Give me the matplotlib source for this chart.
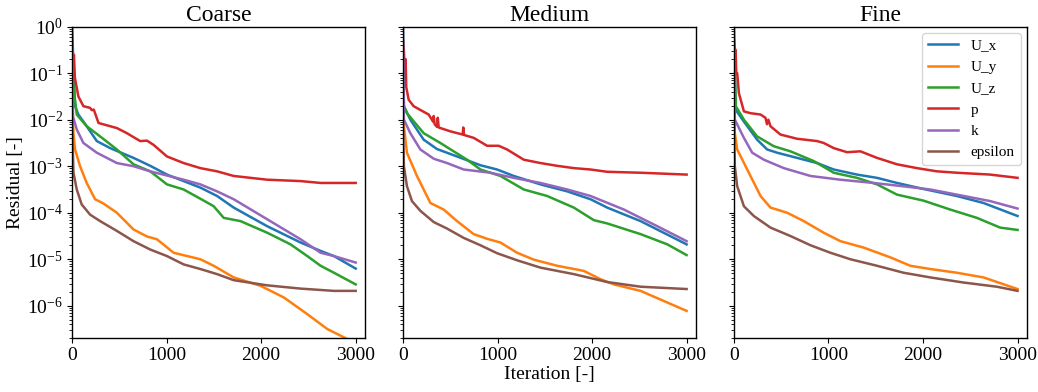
import matplotlib
matplotlib.use("Agg")
import matplotlib.pyplot as plt

plt.rcParams['font.family'] = ['Liberation Serif', 'DejaVu Serif']
plt.rcParams['mathtext.fontset'] = 'stix'

panel_titles = ["Coarse", "Medium", "Fine"]
series_names = ["U_x", "U_y", "U_z", "p", "k", "epsilon"]
series_colors = ["#1f77b4", "#ff7f0e", "#2ca02c", "#d62728", "#9467bd", "#8c564b"]
x_ticks = [0, 1000, 2000, 3000]

# ---- Coarse (iteration, residual) ----
coarse_ux = [(0, 1.0), (32, 1.95e-2), (67, 1.29e-2), (155, 7.24e-3), (262, 3.47e-3), (403, 2.45e-3),
             (650, 1.51e-3), (827, 1.02e-3), (1004, 6.61e-4), (1180, 4.79e-4), (1357, 3.47e-4),
             (1534, 2.29e-4), (1710, 1.29e-4), (2064, 5.13e-5), (2417, 2.29e-5), (2629, 1.51e-5),
             (2770, 1.17e-5), (3000, 6.31e-6)]
coarse_uy = [(0, 5e-2), (15, 5.13e-3), (32, 2.29e-3), (85, 1.0e-3), (155, 4.37e-4), (244, 1.95e-4),
             (332, 1.58e-4), (474, 1.0e-4), (650, 4.37e-5), (792, 3.09e-5), (898, 2.69e-5),
             (1074, 1.38e-5), (1357, 1.0e-5), (1498, 7.24e-6), (1710, 4.07e-6), (1993, 2.69e-6),
             (2240, 1.51e-6), (2488, 6.61e-7), (2700, 3.16e-7), (2877, 2.09e-7), (3000, 1.5e-7)]
coarse_uz = [(0, 0.5), (15, 5e-2), (50, 1.29e-2), (155, 7.24e-3), (297, 4.37e-3), (474, 2.29e-3),
             (650, 1.1e-3), (827, 7.76e-4), (1004, 4.07e-4), (1180, 3.16e-4), (1357, 2.0e-4),
             (1498, 1.38e-4), (1604, 7.76e-5), (1781, 6.61e-5), (2064, 3.72e-5), (2311, 2.09e-5),
             (2488, 1.17e-5), (2629, 7.24e-6), (2770, 5.13e-6), (3000, 2.88e-6)]
coarse_p = [(0, 0.5), (10, 0.1), (20, 0.25), (30, 0.08), (67, 3.16e-2), (120, 1.95e-2), (190, 1.8e-2),
            (210, 1.6e-2), (230, 1.65e-2), (280, 8.5e-3), (474, 6.61e-3), (580, 5.13e-3),
            (721, 3.47e-3), (792, 3.55e-3), (862, 2.88e-3), (1004, 1.62e-3), (1180, 1.17e-3),
            (1357, 9.1e-4), (1534, 7.76e-4), (1710, 6.17e-4), (2064, 5.13e-4), (2417, 4.79e-4),
            (2629, 4.37e-4), (3000, 4.37e-4)]
coarse_k = [(0, 1.0), (10, 1.17e-2), (50, 6.17e-3), (120, 3.16e-3), (262, 1.95e-3), (474, 1.17e-3),
            (650, 1.0e-3), (827, 7.76e-4), (1004, 6.31e-4), (1180, 5.13e-4), (1357, 4.07e-4),
            (1534, 2.88e-4), (1710, 1.95e-4), (2064, 7.24e-5), (2417, 2.69e-5), (2629, 1.38e-5),
            (2770, 1.17e-5), (3000, 8.5e-6)]
coarse_eps = [(0, 1e-2), (15, 7.24e-4), (50, 3.16e-4), (102, 1.51e-4), (191, 9.1e-5), (297, 6.61e-5),
              (474, 4.07e-5), (650, 2.45e-5), (827, 1.62e-5), (1004, 1.17e-5), (1180, 7.76e-6),
              (1357, 6.17e-6), (1534, 4.79e-6), (1710, 3.55e-6), (2064, 2.75e-6), (2417, 2.34e-6),
              (2770, 2.09e-6), (3000, 2.09e-6)]

# ---- Medium ----
medium_ux = [(0, 1.0), (10, 1.95e-2), (78, 1.0e-2), (219, 3.72e-3), (360, 2.34e-3), (572, 1.62e-3),
             (819, 1.05e-3), (995, 8.5e-4), (1172, 6.17e-4), (1454, 4.07e-4), (1737, 2.88e-4),
             (1984, 1.95e-4), (2160, 1.29e-4), (2513, 6.61e-5), (3000, 2.09e-5)]
medium_uy = [(0, 5e-2), (10, 7.24e-3), (42, 1.95e-3), (148, 6.17e-4), (290, 1.62e-4), (431, 1.17e-4),
             (572, 6.61e-5), (748, 3.47e-5), (890, 2.75e-5), (1031, 2.29e-5), (1207, 1.38e-5),
             (1384, 9.8e-6), (1631, 7.24e-6), (1913, 5.62e-6), (2090, 3.72e-6), (2231, 2.88e-6),
             (2513, 2.09e-6), (3000, 7.76e-7)]
medium_uz = [(0, 0.5), (10, 1.95e-2), (42, 1.38e-2), (219, 5.13e-3), (395, 3.16e-3), (678, 1.38e-3),
             (819, 8.5e-4), (1031, 6.17e-4), (1278, 3.16e-4), (1525, 2.29e-4), (1807, 1.29e-4),
             (2019, 6.92e-5), (2160, 5.89e-5), (2513, 3.47e-5), (2796, 2.09e-5), (3000, 1.23e-5)]
medium_p = [(0, 0.5), (10, 0.3), (20, 0.1), (28, 0.2), (35, 0.05), (60, 2.69e-2), (113, 1.95e-2),
            (184, 1.62e-2), (272, 1.29e-2), (320, 9e-3), (325, 1.2e-2), (335, 8e-3), (360, 7e-3),
            (368, 1.1e-2), (378, 6.8e-3), (501, 5.62e-3), (632, 4.8e-3), (638, 6.8e-3),
            (645, 4.7e-3), (748, 4.07e-3), (890, 2.75e-3), (1013, 2.75e-3), (1101, 2.29e-3),
            (1278, 1.38e-3), (1454, 1.17e-3), (1631, 1.02e-3), (1807, 9.1e-4), (1984, 8.5e-4),
            (2160, 7.59e-4), (2513, 7.24e-4), (3000, 6.61e-4)]
medium_k = [(0, 1.0), (10, 1e-2), (78, 5.13e-3), (184, 2.29e-3), (325, 1.45e-3), (466, 1.17e-3),
            (642, 8.5e-4), (925, 7.24e-4), (1172, 5.62e-4), (1454, 4.37e-4), (1737, 3.16e-4),
            (1984, 2.29e-4), (2337, 1.17e-4), (2690, 5.13e-5), (3000, 2.45e-5)]
medium_eps = [(0, 1e-2), (10, 1e-3), (42, 3.72e-4), (95, 1.78e-4), (184, 1.1e-4), (325, 6.31e-5),
              (466, 4.57e-5), (642, 2.88e-5), (819, 2.0e-5), (995, 1.35e-5), (1207, 9.5e-6),
              (1454, 6.61e-6), (1807, 4.79e-6), (2160, 3.24e-6), (2513, 2.57e-6), (3000, 2.29e-6)]

# ---- Fine ----
fine_ux = [(0, 1.0), (20, 1.62e-2), (106, 9.1e-3), (246, 3.72e-3), (352, 2.29e-3), (458, 1.95e-3),
           (669, 1.51e-3), (880, 1.17e-3), (1056, 8.5e-4), (1302, 6.61e-4), (1514, 5.62e-4),
           (1725, 4.37e-4), (2006, 3.24e-4), (2358, 2.29e-4), (2640, 1.62e-4), (3000, 8.5e-5)]
fine_uy = [(0, 5e-2), (10, 5.13e-3), (35, 2.29e-3), (141, 8.5e-4), (282, 2.29e-4), (387, 1.29e-4),
           (563, 1.0e-4), (739, 6.61e-5), (950, 3.72e-5), (1126, 2.45e-5), (1373, 1.78e-5),
           (1654, 1.1e-5), (1866, 7.24e-6), (2077, 6.17e-6), (2358, 5.13e-6), (2640, 4.07e-6),
           (3000, 2.29e-6)]
fine_uz = [(0, 0.5), (20, 1.95e-2), (106, 1.0e-2), (246, 4.37e-3), (422, 2.69e-3), (598, 2.09e-3),
           (845, 1.29e-3), (1056, 7.24e-4), (1302, 5.62e-4), (1514, 4.07e-4), (1725, 2.45e-4),
           (2006, 1.82e-4), (2288, 1.17e-4), (2570, 7.76e-5), (2816, 4.79e-5), (3000, 4.27e-5)]
fine_p = [(0, 0.5), (10, 0.3), (18, 0.32), (25, 0.1), (35, 0.1), (53, 3.72e-2), (106, 1.51e-2),
          (176, 1.38e-2), (282, 1.29e-2), (334, 1.1e-2), (350, 8e-3), (365, 1.0e-2), (387, 7.24e-3),
          (493, 4.79e-3), (669, 3.89e-3), (880, 3.47e-3), (950, 3.16e-3), (1056, 2.45e-3),
          (1197, 2.0e-3), (1338, 2.09e-3), (1514, 1.51e-3), (1725, 1.1e-3), (1936, 9.1e-4),
          (2147, 7.76e-4), (2358, 7.24e-4), (2710, 6.61e-4), (3000, 5.62e-4)]
fine_k = [(0, 1.0), (10, 1.0e-2), (106, 4.07e-3), (194, 1.95e-3), (317, 1.38e-3), (528, 9.1e-4),
          (810, 6.17e-4), (1126, 5.13e-4), (1478, 4.37e-4), (1830, 3.63e-4), (2077, 3.16e-4),
          (2358, 2.45e-4), (2710, 1.78e-4), (3000, 1.23e-4)]
fine_eps = [(0, 1e-2), (10, 1.0e-3), (35, 3.72e-4), (106, 1.38e-4), (211, 8.5e-5), (387, 4.79e-5),
            (598, 3.16e-5), (810, 2.0e-5), (1021, 1.38e-5), (1232, 1.0e-5), (1514, 7.24e-6),
            (1795, 5.13e-6), (2077, 4.07e-6), (2429, 3.16e-6), (2781, 2.57e-6), (3000, 2.09e-6)]

panels = [
    [coarse_ux, coarse_uy, coarse_uz, coarse_p, coarse_k, coarse_eps],
    [medium_ux, medium_uy, medium_uz, medium_p, medium_k, medium_eps],
    [fine_ux, fine_uy, fine_uz, fine_p, fine_k, fine_eps],
]

fig, axes = plt.subplots(1, 3, figsize=(10.38, 3.92), dpi=100, sharey=True)
fig.subplots_adjust(left=0.0694, right=0.9894, top=0.932, bottom=0.137, wspace=0.129)

for ax, title, series in zip(axes, panel_titles, panels):
    for name, color, data in zip(series_names, series_colors, series):
        xs = [d[0] for d in data]
        ys = [d[1] for d in data]
        ax.plot(xs, ys, color=color, lw=1.8, label=name)
    ax.set_yscale('log')
    ax.set_ylim(2e-7, 1)
    ax.set_xlim(0, 3100)
    ax.set_xticks(x_ticks)
    ax.set_title(title, fontsize=17, pad=4)
    ax.tick_params(axis='both', labelsize=14, pad=3)
    for s in ax.spines.values():
        s.set_linewidth(1.0)

axes[0].set_ylabel("Residual [-]", fontsize=14, labelpad=2)
axes[1].set_xlabel("Iteration [-]", fontsize=14, labelpad=1)
for i in (0, 2):
    axes[i].xaxis.label.set_visible(False)
for i in (1, 2):
    axes[i].yaxis.label.set_visible(False)
axes[2].legend(loc='upper right', fontsize=11, labelspacing=0.5, framealpha=0.8,
               borderaxespad=0.4)

fig.savefig("out.png", dpi=100)
